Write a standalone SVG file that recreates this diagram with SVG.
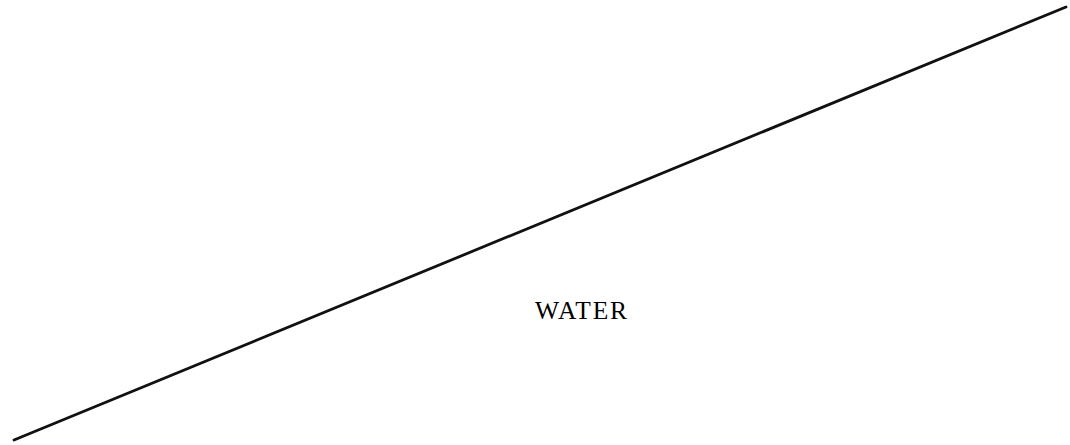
<svg xmlns="http://www.w3.org/2000/svg" width="1070" height="445" viewBox="0 0 1070 445">
<style>
.line{stroke:#111;stroke-width:2.8;fill:none;stroke-linecap:round}
.lbl{font-family:"Liberation Serif",serif;font-size:25.5px;fill:#000}
</style>
<rect width="1070" height="445" fill="#fff"/>
<g id="connectors">
<line class="line" x1="14" y1="440" x2="1066" y2="7"/>
</g>
<g id="water">
<text class="lbl" x="535" y="319" textLength="92" lengthAdjust="spacing">WATER</text>
</g>
</svg>
